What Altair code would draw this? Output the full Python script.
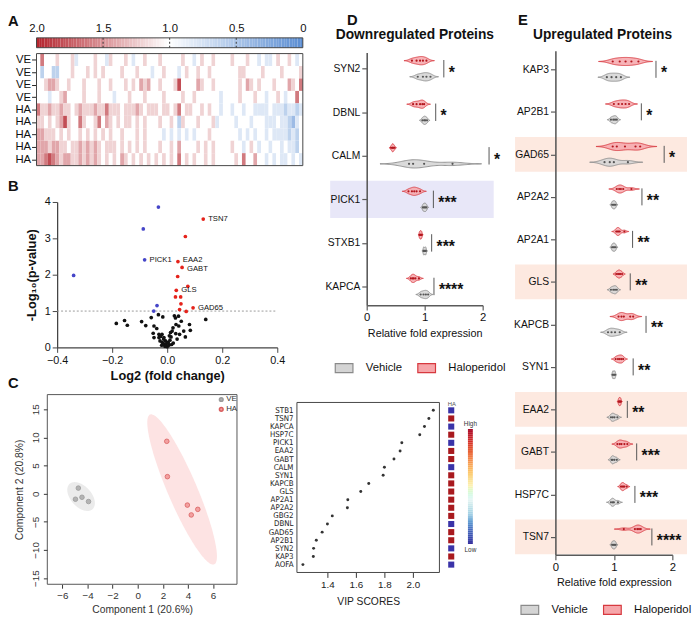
import numpy as np
import pandas as pd
import altair as alt

FONT = "Liberation Sans"
NARROW = "Liberation Sans Narrow, DejaVu Sans Condensed, Liberation Sans"

# ---------------- Panel A: heat map ----------------
HEAT_ROWS = ["VE", "VE", "VE", "VE", "HA", "HA", "HA", "HA", "HA"]
HEAT_CODES = [
    "5855565556" "4555565546" "5556545565" "5565555565" "5456556555" "5655565545" "4456556545",
    "5355335556" "5556565655" "5565556555" "4556555456" "5565565555" "5556655556" "5555655556",
    "5567765565" "5565556556" "5556565767" "5565556955" "5576556555" "5556576565" "5565557658",
    "5554556755" "5565556555" "4555655565" "5556555565" "5655555545" "5556555655" "4556545585",
    "8667667665" "6766676686" "6656667656" "6656656856" "6556565545" "5455455444" "4544434434",
    "6656567965" "5865568576" "5656656565" "5565565365" "5565556455" "5545554555" "4445443245",
    "7766656565" "5656565656" "5565556565" "5554545454" "5455565555" "5554545455" "4544443435",
    "7776776656" "6767676566" "6565656565" "5565565755" "5565656555" "5655456545" "5455454435",
    "7789876776" "6767676565" "6576565656" "5656565856" "5655656555" "5565855755" "4545445454",
]
CODE_VALUE = {"2": 0.4, "3": 0.6, "4": 0.8, "5": 1.0, "6": 1.2, "7": 1.4, "8": 1.6, "9": 1.8}
COLORBAR_TICKS = [0, 0.5, 1.0, 1.5, 2.0]
COLORBAR_MARKS = [0.5, 1.0, 1.5]

# ---------------- Panel B: volcano ----------------
VOLC_NS_X = [-0.185, -0.155, -0.145, -0.093, -0.078, -0.058, -0.032, -0.016, -0.048, -0.038,
             -0.051, -0.030, -0.024, -0.019, -0.048, -0.026, -0.018, -0.012, -0.006, 0.000,
             0.006, 0.002, 0.010, 0.014, 0.012, 0.018, 0.026, 0.030, 0.041, 0.032,
             0.042, 0.051, 0.031, 0.045, 0.060, 0.066, 0.081, 0.084, 0.140, -0.012,
             -0.006, 0.036, 0.021, -0.030, 0.008, -0.013, -0.004, 0.004, -0.008, 0.016,
             -0.020, 0.022]
VOLC_NS_Y = [0.66, 0.74, 0.61, 0.71, 0.60, 0.82, 0.90, 0.84, 0.59, 0.52,
             0.39, 0.36, 0.30, 0.36, 0.27, 0.18, 0.14, 0.09, 0.05, 0.02,
             0.06, 0.14, 0.20, 0.29, 0.41, 0.45, 0.87, 0.81, 0.86, 0.63,
             0.59, 0.72, 0.38, 0.36, 0.45, 0.29, 0.63, 0.47, 0.77, 0.27,
             0.18, 0.23, 0.54, 0.27, 0.32, 0.23, 0.10, 0.12, 0.03, 0.08,
             0.06, 0.12]
VOLC_UP_X = [0.131, 0.066, 0.039, 0.054, 0.038, 0.075, 0.033, 0.030, 0.049, 0.050, 0.045, 0.069, 0.094]
VOLC_UP_Y = [3.53, 3.05, 2.36, 2.20, 1.95, 1.68, 1.57, 1.39, 1.39, 1.20, 1.04, 0.99, 1.09]
VOLC_UP_NAMES = ["TSN7", "", "EAA2", "GABT", "", "", "GLS", "", "", "", "", "", "GAD65"]
VOLC_DOWN_X = [-0.032, -0.087, -0.082, -0.340, -0.037, -0.049]
VOLC_DOWN_Y = [3.86, 3.26, 2.41, 1.98, 1.15, 1.00]
VOLC_DOWN_NAMES = ["", "", "PICK1", "", "", ""]
VOLC_THRESHOLD = 1.0

# ---------------- Panel C: PCA + VIP ----------------
PCA_VE_X = [-4.73, -4.96, -4.44, -3.92]
PCA_VE_Y = [0.99, -0.99, -0.64, -1.40]
PCA_HA_X = [2.31, 2.36, 3.95, 4.26, 4.78]
PCA_HA_Y = [9.30, 3.02, -2.03, -3.78, -2.79]

VIP_NAMES = ["STB1", "TSN7", "KAPCA", "HSP7C", "PICK1", "EAA2", "GABT", "CALM", "SYN1", "KAPCB",
             "GLS", "AP2A1", "AP2A2", "GBG2", "DBNL", "GAD65", "AP2B1", "SYN2", "KAP3", "AOFA"]
VIP_SCORES = [2.143, 2.112, 2.081, 2.048, 1.922, 1.910, 1.867, 1.800, 1.791, 1.690,
              1.634, 1.543, 1.540, 1.434, 1.400, 1.363, 1.322, 1.303, 1.301, 1.228]
VIP_HA_LEVEL = ["Low", "High", "Low", "High", "Low", "High", "High", "Low", "High", "High",
                "High", "High", "High", "High", "Low", "High", "High", "Low", "High", "Low"]
GRAD_STOPS = [0, 0.125, 0.25, 0.375, 0.5, 0.625, 0.75, 0.875, 1.0]
GRAD_COLORS = ["#35309e", "#4a6fc0", "#9fcde4", "#e8f6f5", "#fdf1b0", "#fdc46a", "#f07a43", "#d73027", "#a50026"]

# ---------------- Panel D / E: violins ----------------
D_PROTEINS = ["SYN2", "DBNL", "CALM", "PICK1", "STXB1", "KAPCA"]
D_HALO = [[0.78, 0.86, 0.92, 0.97, 1.03], [0.80, 0.86, 0.92, 0.96, 0.99], [0.42, 0.44, 0.45, 0.46, 0.48],
          [0.72, 0.78, 0.82, 0.86, 0.92], [0.91, 0.92, 0.93, 0.94, 0.95], [0.76, 0.79, 0.81, 0.84, 0.90]]
D_VEH = [[0.88, 0.97, 1.03, 1.10], [0.96, 0.99, 1.01, 1.04], [0.73, 0.80, 0.99, 1.48],
         [0.97, 0.99, 1.01, 1.03], [0.98, 0.99, 1.01, 1.02], [0.93, 0.98, 1.02, 1.06]]
D_SIG = ["*", "*", "*", "***", "***", "****"]
D_BAR = [1.33, 1.19, 2.11, 1.15, 1.12, 1.16]
D_HIGHLIGHT = ["PICK1"]

E_PROTEINS = ["KAP3", "AP2B1", "GAD65", "AP2A2", "AP2A1", "GLS", "KAPCB", "SYN1", "EAA2", "GABT", "HSP7C", "TSN7"]
E_HALO = [[0.98, 1.10, 1.20, 1.30, 1.42], [1.00, 1.08, 1.14, 1.20, 1.26], [0.98, 1.05, 1.19, 1.37, 1.45],
          [1.05, 1.09, 1.12, 1.16, 1.30], [1.04, 1.06, 1.08, 1.10, 1.18], [1.04, 1.07, 1.09, 1.11, 1.14],
          [1.08, 1.13, 1.17, 1.28, 1.33], [1.03, 1.07, 1.10, 1.13, 1.16], [1.08, 1.09, 1.10, 1.11, 1.12],
          [1.06, 1.10, 1.13, 1.18, 1.23], [1.12, 1.14, 1.16, 1.18, 1.22], [1.17, 1.36, 1.40, 1.43, 1.46]]
E_VEH = [[0.88, 0.96, 1.04, 1.12], [0.95, 0.99, 1.02, 1.05], [0.84, 0.93, 1.00, 1.24],
         [0.97, 0.99, 1.01, 1.03], [0.97, 0.99, 1.01, 1.03], [0.95, 0.99, 1.02, 1.05],
         [0.90, 0.96, 1.02, 1.10], [0.98, 0.99, 1.01, 1.02], [0.95, 0.98, 1.01, 1.06],
         [0.96, 0.98, 1.01, 1.05], [0.95, 0.98, 1.00, 1.07], [0.97, 0.99, 1.01, 1.03]]
E_SIG = ["*", "*", "*", "**", "**", "**", "**", "**", "**", "***", "***", "****"]
E_BAR = [1.72, 1.47, 1.86, 1.48, 1.32, 1.28, 1.55, 1.33, 1.23, 1.39, 1.36, 1.65]
E_HIGHLIGHT = ["GAD65", "GLS", "EAA2", "GABT", "TSN7"]

GROUPS = ["Vehicle", "Haloperidol"]

# ---------------- canvas (one view, every panel has its own scales) ----------------
W, H = 691, 608
ONE = pd.DataFrame({"s": [0]})


def label(t, x, y, size=15, weight="bold", align="left"):
    return alt.Chart(ONE).mark_text(text=t, align=align, baseline="alphabetic", fontSize=size,
                                    fontWeight=weight, font=FONT, color="#111").encode(
        x=alt.value(x), y=alt.value(y))


def kde(vals, npts=90, bw_fac=0.75, cut=2.6):
    v = np.asarray(vals, float)
    bw = bw_fac * v.std(ddof=1) * len(v) ** (-0.2)
    g = np.linspace(v.min() - cut * bw, v.max() + cut * bw, npts)
    d = np.exp(-0.5 * ((g[:, None] - v[None, :]) / bw) ** 2).sum(axis=1)
    return g, d / d.max()


def conf_ellipse(xs, ys, chi2=5.991, n=90):
    x = np.asarray(xs, float)
    y = np.asarray(ys, float)
    mx, my = x.mean(), y.mean()
    S = np.cov(x, y)
    sxx, syy, sxy = S[0, 0], S[1, 1], S[0, 1]
    half = np.sqrt(chi2 * sxx)
    dx = -half * np.cos(np.linspace(0, np.pi, n))
    cond = syy - sxy ** 2 / sxx
    rad = np.sqrt(np.clip((chi2 - dx ** 2 / sxx) * cond, 0, None))
    yc = my + sxy / sxx * dx
    return pd.DataFrame({"ex": mx + dx, "ey1": yc + rad, "ey2": yc - rad})


def ax(**kw):
    base = dict(grid=False, labelColor="#111", titleColor="#111", labelFont=FONT, titleFont=FONT)
    base.update(kw)
    return alt.Axis(**base)


# ---------------- Panel A ----------------
HEAT_SCALE = alt.Scale(domain=[0, 1, 2], range=["#5b8ed3", "#ffffff", "#b3212a"], interpolate="rgb")
n_cols = min(len(c) for c in HEAT_CODES)
heat_rows = []
for r, code in enumerate(HEAT_CODES):
    for c, ch in enumerate(code[:n_cols]):
        heat_rows.append({"c0": c, "c1": c + 1, "r0": r, "r1": r + 1, "value": CODE_VALUE[ch]})
heat_df = pd.DataFrame(heat_rows)
HX = alt.Scale(domain=[0, n_cols], range=[29, 300], nice=False, zero=False)
HY = alt.Scale(domain=[0, len(HEAT_ROWS)], range=[40, 154], nice=False, zero=False)
row_names = ",".join("'%s'" % r for r in HEAT_ROWS)
HYA = ax(orient="left", offset=-29, values=[i + 0.5 for i in range(len(HEAT_ROWS))],
         labelExpr="[%s][floor(datum.value)]" % row_names, title=None, labelFontSize=11.5,
         tickSize=5, tickColor="#222", domain=False, labelPadding=1)
heat_cells = alt.Chart(heat_df).mark_rect().encode(
    x=alt.X("c0:Q", scale=HX, axis=None), x2="c1:Q",
    y=alt.Y("r0:Q", scale=HY, axis=HYA), y2="r1:Q",
    color=alt.Color("value:Q", scale=HEAT_SCALE, legend=None))
heat_frame = alt.Chart(pd.DataFrame({"c0": [0], "c1": [n_cols], "r0": [0], "r1": [len(HEAT_ROWS)]})).mark_rect(
    fillOpacity=0, stroke="#444", strokeWidth=1).encode(
    x=alt.X("c0:Q", scale=HX, axis=None), x2="c1:Q", y=alt.Y("r0:Q", scale=HY, axis=HYA), y2="r1:Q")
heat = alt.layer(heat_cells, heat_frame)

cb_steps = np.round(np.arange(0, 2.0, 0.02), 3)
cb_df = pd.DataFrame({"v": cb_steps, "v2": cb_steps + 0.02, "b0": 0, "b1": 1})
CBX = alt.Scale(domain=[0, 2], range=[300, 29], nice=False, zero=False)
CBY = alt.Scale(domain=[0, 1], range=[34, 24], nice=False, zero=False)
CBA = ax(orient="top", offset=-24, values=COLORBAR_TICKS, title=None, tickSize=0, domain=False,
         labelExpr="datum.value == 0 ? '0' : format(datum.value, '.1f')",
         labelFontSize=11.5, labelPadding=4, labelFlush=False)
cb_rect = alt.Chart(cb_df).mark_rect().encode(
    x=alt.X("v:Q", scale=CBX, axis=CBA), x2="v2:Q", y=alt.Y("b0:Q", scale=CBY, axis=None), y2="b1:Q",
    color=alt.Color("v:Q", scale=HEAT_SCALE, legend=None))
cb_tick = alt.Chart(pd.DataFrame({"v": COLORBAR_MARKS, "b0": 0, "b1": 1})).mark_rule(
    color="#333", strokeDash=[2, 2], strokeWidth=1).encode(
    x=alt.X("v:Q", scale=CBX, axis=CBA), y=alt.Y("b0:Q", scale=CBY, axis=None), y2="b1:Q")
cb_frame = alt.Chart(pd.DataFrame({"v": [0], "v2": [2], "b0": [0], "b1": [1]})).mark_rect(
    fillOpacity=0, stroke="#444", strokeWidth=1).encode(
    x=alt.X("v:Q", scale=CBX, axis=CBA), x2="v2:Q", y=alt.Y("b0:Q", scale=CBY, axis=None), y2="b1:Q")
colorbar = alt.layer(cb_rect, cb_tick, cb_frame)

# ---------------- Panel B ----------------
volc_df = pd.concat([
    pd.DataFrame({"fc": VOLC_NS_X, "p": VOLC_NS_Y, "cls": "ns", "name": ""}),
    pd.DataFrame({"fc": VOLC_UP_X, "p": VOLC_UP_Y, "cls": "up", "name": VOLC_UP_NAMES}),
    pd.DataFrame({"fc": VOLC_DOWN_X, "p": VOLC_DOWN_Y, "cls": "down", "name": VOLC_DOWN_NAMES}),
], ignore_index=True)
BX = alt.Scale(domain=[-0.4, 0.4], range=[50, 274], nice=False, zero=False)
BY = alt.Scale(domain=[0, 4], range=[339, 191], nice=False, zero=False)
BXA = ax(orient="bottom", offset=-(H - 339), values=[-0.4, -0.2, 0, 0.2, 0.4], format=".1f",
         title="Log2 (fold change)", titleFontWeight="bold", titleFontSize=13, labelFontSize=11,
         tickSize=5, domainColor="#444", tickColor="#444", domainWidth=1.3, titlePadding=5, labelFlush=False)
BYA = ax(orient="left", offset=-50, values=[0, 1, 2, 3, 4], title="-Log₁₀(p-value)", titleFontWeight="bold",
         titleFontSize=13, labelFontSize=11, tickSize=5, domainColor="#444", tickColor="#444",
         domainWidth=1.3, titlePadding=6)
b_rule = alt.Chart(pd.DataFrame({"fc": [-0.4], "fc2": [0.4], "p": [VOLC_THRESHOLD]})).mark_rule(
    color="#9a9a9a", strokeDash=[2, 2], strokeWidth=1).encode(
    x=alt.X("fc:Q", scale=BX, axis=BXA), x2="fc2:Q", y=alt.Y("p:Q", scale=BY, axis=BYA))
b_pts = alt.Chart(volc_df).mark_circle(size=14, opacity=1).encode(
    x=alt.X("fc:Q", scale=BX, axis=BXA), y=alt.Y("p:Q", scale=BY, axis=BYA),
    color=alt.Color("cls:N", scale=alt.Scale(domain=["down", "up", "ns"], range=["#4545c8", "#e5231b", "#111111"]),
                    legend=None))


def b_labels(filt, dy):
    return alt.Chart(volc_df).transform_filter(filt).mark_text(
        align="left", baseline="middle", dx=5, dy=dy, fontSize=7.8, font=FONT, color="#111").encode(
        x=alt.X("fc:Q", scale=BX, axis=BXA), y=alt.Y("p:Q", scale=BY, axis=BYA), text="name:N")


b_lab_main = b_labels("datum.name != '' && datum.name != 'EAA2' && datum.name != 'GABT'", 0)
b_lab_hi = b_labels("datum.name == 'EAA2'", -1.5)
b_lab_lo = b_labels("datum.name == 'GABT'", 1.5)
volcano = alt.layer(b_rule, b_pts, b_lab_main, b_lab_hi, b_lab_lo)

# ---------------- Panel C ----------------
pca_df = pd.concat([
    pd.DataFrame({"c1": PCA_VE_X, "c2": PCA_VE_Y, "grp": "VE"}),
    pd.DataFrame({"c1": PCA_HA_X, "c2": PCA_HA_Y, "grp": "HA"}),
], ignore_index=True)
C_XDOM = [-7.2, 7.9]
C_YDOM = [-16.1, 17.6]
CX = alt.Scale(domain=C_XDOM, range=[40, 233], nice=False, zero=False)
CY = alt.Scale(domain=C_YDOM, range=[580, 387], nice=False, zero=False)
CXA = ax(orient="bottom", offset=-(H - 580), values=[-6, -4, -2, 0, 2, 4, 6], title="Component 1 (20.6%)",
         domain=False, tickSize=4, tickColor="#333", labelFontSize=10, labelColor="#333", titleFontSize=10.5,
         titleFontWeight="normal", titleColor="#333", labelPadding=2, titlePadding=5, labelFlush=False)
CYA = ax(orient="left", offset=-40, values=[-15, -10, -5, 0, 5, 10, 15], title="Component 2 (20.8%)",
         domain=False, tickSize=4, tickColor="#333", labelFontSize=10, labelColor="#333", labelAngle=-90,
         labelAlign="center", labelBaseline="bottom", titleFontSize=10.5, titleFontWeight="normal",
         titleColor="#333", labelPadding=3, titlePadding=6, labelFlush=False)
ell_ve = alt.Chart(conf_ellipse(PCA_VE_X, PCA_VE_Y)).mark_area(color="#ebebeb", opacity=1).encode(
    x=alt.X("ex:Q", scale=CX, axis=CXA), y=alt.Y("ey1:Q", scale=CY, axis=CYA), y2="ey2:Q")
ell_ha = alt.Chart(conf_ellipse(PCA_HA_X, PCA_HA_Y)).mark_area(color="#fde3e3", opacity=1).encode(
    x=alt.X("ex:Q", scale=CX, axis=CXA), y=alt.Y("ey1:Q", scale=CY, axis=CYA), y2="ey2:Q")
c_pts = alt.Chart(pca_df).mark_point(filled=True, size=22, opacity=1, strokeWidth=0.8).encode(
    x=alt.X("c1:Q", scale=CX, axis=CXA), y=alt.Y("c2:Q", scale=CY, axis=CYA),
    fill=alt.Fill("grp:N", scale=alt.Scale(domain=["VE", "HA"], range=["#b3b3b3", "#f3a0a0"]),
                  legend=alt.Legend(title=None, orient="none", legendX=213, legendY=388, padding=0,
                                    labelFontSize=8, symbolSize=14, rowPadding=0, labelOffset=1,
                                    labelColor="#333", symbolType="circle", labelFont=FONT)),
    stroke=alt.Stroke("grp:N", scale=alt.Scale(domain=["VE", "HA"], range=["#9a9a9a", "#d95f5f"]), legend=None))
c_frame = alt.Chart(pd.DataFrame({"c1": [C_XDOM[0]], "e1": [C_XDOM[1]], "c2": [C_YDOM[0]], "e2": [C_YDOM[1]]})).mark_rect(
    fillOpacity=0, stroke="#555", strokeWidth=1).encode(
    x=alt.X("c1:Q", scale=CX, axis=CXA), x2="e1:Q", y=alt.Y("c2:Q", scale=CY, axis=CYA), y2="e2:Q")
pca = alt.layer(ell_ve, ell_ha, c_pts, c_frame)

vip_df = pd.DataFrame({"name": VIP_NAMES, "score": VIP_SCORES, "level": VIP_HA_LEVEL, "ha": "HA"})
VIP_XDOM = [1.186, 2.186]
VX = alt.Scale(domain=VIP_XDOM, range=[294, 439], nice=False, zero=False)
VY = alt.Scale(type="point", domain=VIP_NAMES, range=[395, 568], padding=0.97)
vip = alt.Chart(vip_df).mark_circle(size=9, color="#333", opacity=1).encode(
    x=alt.X("score:Q", scale=VX,
            axis=ax(orient="bottom", offset=-(H - 568), values=[1.4, 1.6, 1.8, 2.0], format=".1f",
                    title="VIP SCORES", domain=False, tickSize=5, tickColor="#333", labelFontSize=10,
                    labelColor="#222", titleFontSize=10.5, titleFontWeight="normal", titleColor="#222",
                    labelPadding=2, titlePadding=8, labelFlush=False)),
    y=alt.Y("name:N", sort=VIP_NAMES, scale=VY,
            axis=ax(orient="left", offset=-294, title=None, ticks=False, domain=False, labelFont=NARROW,
                    labelFontSize=8, labelPadding=4, labelColor="#222", labelOverlap=False)))
vip_frame = alt.Chart(pd.DataFrame({"score": [VIP_XDOM[0]], "s2": [VIP_XDOM[1]], "f0": [0], "f1": [1]})).mark_rect(
    fillOpacity=0, stroke="#444", strokeWidth=1).encode(
    x=alt.X("score:Q", scale=VX, axis=None), x2="s2:Q",
    y=alt.Y("f0:Q", scale=alt.Scale(domain=[0, 1], range=[568, 395], nice=False, zero=False), axis=None),
    y2="f1:Q")

squares = alt.Chart(vip_df).mark_square(size=38, opacity=1).encode(
    x=alt.X("ha:N", scale=alt.Scale(range=[448, 454]),
            axis=ax(orient="top", offset=-400, title=None, ticks=False, domain=False, labelFontSize=6,
                    labelColor="#555", labelPadding=1, labelAngle=0)),
    y=alt.Y("name:N", sort=VIP_NAMES, scale=VY, axis=None),
    color=alt.Color("level:N", scale=alt.Scale(domain=["High", "Low"], range=["#a8191e", "#3a33a8"]), legend=None))

grad_steps = np.round(np.arange(0, 1.0, 1 / 60), 5)
grad_df = pd.DataFrame({"g": grad_steps, "g2": grad_steps + 1 / 60, "gx0": 0, "gx1": 1})
GX = alt.Scale(domain=[0, 1], range=[468, 473], nice=False, zero=False)
GY = alt.Scale(domain=[0, 1], range=[539, 422], nice=False, zero=False)
g_rect = alt.Chart(grad_df).mark_rect().encode(
    x=alt.X("gx0:Q", scale=GX, axis=None), x2="gx1:Q",
    y=alt.Y("g:Q", scale=GY, axis=None), y2="g2:Q",
    color=alt.Color("g:Q", scale=alt.Scale(domain=GRAD_STOPS, range=GRAD_COLORS), legend=None))
g_hi = alt.Chart(pd.DataFrame({"g": [1.0], "t": ["High"], "gx": [0.5]})).mark_text(
    baseline="bottom", dy=-2, fontSize=6.5, font=FONT, color="#333").encode(
    x=alt.X("gx:Q", scale=GX, axis=None), y=alt.Y("g:Q", scale=GY, axis=None), text="t:N")
g_lo = alt.Chart(pd.DataFrame({"g": [0.0], "t": ["Low"], "gx": [0.5]})).mark_text(
    baseline="top", dy=3, fontSize=6.5, font=FONT, color="#333").encode(
    x=alt.X("gx:Q", scale=GX, axis=None), y=alt.Y("g:Q", scale=GY, axis=None), text="t:N")
gradient = alt.layer(g_rect, g_hi, g_lo)

# ---------------- Panel D / E ----------------
OFF = 0.185
HW = 0.095
RECT_PATH = "M-1,-0.5L1,-0.5L1,0.5L-1,0.5Z"


def violin_panel(proteins, halo, veh, sig, bar, highlight, hl_color, hl_half, hl_x, y_dom,
                 x_rng, y_rng, leg_xy):
    area_rows, pt_rows = [], []
    for i, p in enumerate(proteins):
        for grp, vals, off in (("Haloperidol", halo[i], -OFF), ("Vehicle", veh[i], OFF)):
            g, d = kde(vals)
            c = i + off
            for gx, dv in zip(g, d):
                area_rows.append({"key": p + grp, "group": grp, "x": gx, "lo": c - dv * HW, "hi": c + dv * HW})
            for v in vals:
                pt_rows.append({"group": grp, "x": v, "y": c})
    area_df = pd.DataFrame(area_rows)
    pt_df = pd.DataFrame(pt_rows)
    bar_df = pd.DataFrame({"bar": bar, "sig": sig, "y": list(range(len(proteins)))})
    bar_df["y1"] = bar_df["y"] - 0.2
    bar_df["y2"] = bar_df["y"] + 0.2
    band_df = pd.DataFrame({"yc": [proteins.index(p) for p in highlight]})
    band_df["y1"] = band_df["yc"] - hl_half
    band_df["y2"] = band_df["yc"] + hl_half
    band_df["x0"] = hl_x[0]
    band_df["x1"] = hl_x[1]

    XS = alt.Scale(domain=[0, 2], range=x_rng, nice=False, zero=False)
    YS = alt.Scale(domain=y_dom, range=y_rng, nice=False, zero=False)
    names = ",".join("'%s'" % p for p in proteins)
    XA = ax(orient="bottom", offset=-(H - y_rng[1]), values=[0, 1, 2], labelExpr="'' + datum.value",
            title="Relative fold expression", labelOverlap=False,
            labelFlush=False, tickSize=5, domainColor="#5a5a5a", tickColor="#5a5a5a", domainWidth=1.6,
            tickWidth=1.2, labelFontSize=11.5, titleFontSize=11, titleFontWeight="normal", titlePadding=4,
            zindex=1)
    YA = ax(orient="left", offset=-x_rng[0], values=list(range(len(proteins))),
            labelExpr="[%s][datum.value]" % names, title=None, tickSize=5, domainColor="#5a5a5a",
            tickColor="#5a5a5a", domainWidth=1.6, tickWidth=1.2, labelFontSize=10.5, zindex=1, labelPadding=2)
    leg = dict(orient="none", legendX=leg_xy[0], legendY=leg_xy[1], direction="horizontal", title=None,
               symbolType=RECT_PATH, symbolSize=324, symbolStrokeWidth=1.2, labelFontSize=11.5,
               labelFont=FONT, labelOffset=12, columnPadding=12, labelColor="#111", padding=0)

    bands = alt.Chart(band_df).mark_rect(color=hl_color, clip=False).encode(
        x=alt.X("x0:Q", scale=XS, axis=XA), x2="x1:Q", y=alt.Y("y1:Q", scale=YS, axis=YA), y2="y2:Q")
    areas = alt.Chart(area_df).mark_area(strokeWidth=0.9, fillOpacity=0.85).encode(
        x=alt.X("x:Q", scale=XS, axis=XA), y=alt.Y("lo:Q", scale=YS, axis=YA), y2="hi:Q",
        fill=alt.Fill("group:N", scale=alt.Scale(domain=GROUPS, range=["#d4d4d4", "#f6a6aa"]),
                      legend=alt.Legend(**leg)),
        stroke=alt.Stroke("group:N", scale=alt.Scale(domain=GROUPS, range=["#8a8a8a", "#d7393f"]),
                          legend=alt.Legend(**leg)),
        detail="key:N")
    pts = alt.Chart(pt_df).mark_circle(size=5, opacity=1).encode(
        x=alt.X("x:Q", scale=XS, axis=XA), y=alt.Y("y:Q", scale=YS, axis=YA),
        color=alt.Color("group:N", scale=alt.Scale(domain=GROUPS, range=["#555555", "#b3161d"]), legend=None))
    rules = alt.Chart(bar_df).mark_rule(color="#555", strokeWidth=1).encode(
        x=alt.X("bar:Q", scale=XS, axis=XA), y=alt.Y("y1:Q", scale=YS, axis=YA), y2="y2:Q")
    stars = alt.Chart(bar_df).mark_text(align="left", baseline="middle", dx=5, dy=4, fontSize=16,
                                        fontWeight="bold", font=FONT, color="#111").encode(
        x=alt.X("bar:Q", scale=XS, axis=XA), y=alt.Y("y:Q", scale=YS, axis=YA), text="sig:N")
    return alt.layer(bands, areas, pts, rules, stars)


panelD = violin_panel(D_PROTEINS, D_HALO, D_VEH, D_SIG, D_BAR, D_HIGHLIGHT, "#e8e7f8", 0.43, (-0.63, 2.19),
                      [-0.37, 5.43], [365, 483], [39, 296], (332, 350))
panelE = violin_panel(E_PROTEINS, E_HALO, E_VEH, E_SIG, E_BAR, E_HIGHLIGHT, "#fde9e0", 0.41, (-0.69, 2.25),
                      [-0.44, 11.42], [557, 676], [37, 550], (521, 596))

texts = [
    label("A", 0, 12), label("B", 0, 180), label("C", 0, 380), label("D", 345, 11), label("E", 519, 11),
    label("Downregulated Proteins", 414, 25, size=14, align="center"),
    label("Upregulated Proteins", 605, 25, size=14, align="center"),
]

chart = alt.layer(
    colorbar, heat, volcano, pca, vip, vip_frame, squares, gradient, panelD, panelE, *texts
).resolve_scale(
    x="independent", y="independent", color="independent", fill="independent", stroke="independent"
).resolve_axis(x="independent", y="independent").resolve_legend(
    color="independent", fill="independent", stroke="independent"
).properties(width=W, height=H, padding=0).configure(
    font=FONT, background="white").configure_view(stroke=None)

chart.save("out.html", embed_options={"renderer": "svg", "actions": False})
